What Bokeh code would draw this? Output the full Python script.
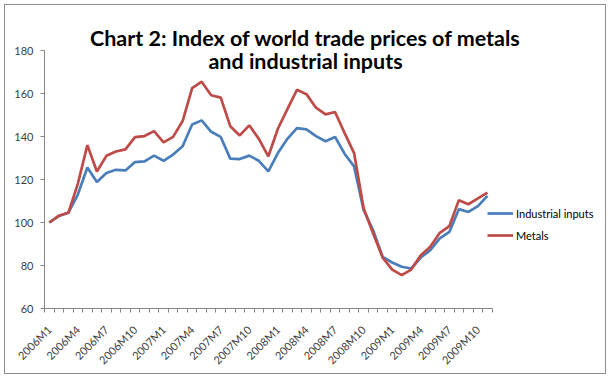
from math import pi
from bokeh.plotting import figure
from bokeh.models import FixedTicker, Label, Legend, LegendItem, Range1d, ColumnDataSource
from bokeh.embed import file_html
from bokeh.resources import INLINE

months = ["2006M1", "2006M2", "2006M3", "2006M4", "2006M5", "2006M6", "2006M7", "2006M8",
          "2006M9", "2006M10", "2006M11", "2006M12",
          "2007M1", "2007M2", "2007M3", "2007M4", "2007M5", "2007M6", "2007M7", "2007M8",
          "2007M9", "2007M10", "2007M11", "2007M12",
          "2008M1", "2008M2", "2008M3", "2008M4", "2008M5", "2008M6", "2008M7", "2008M8",
          "2008M9", "2008M10", "2008M11", "2008M12",
          "2009M1", "2009M2", "2009M3", "2009M4", "2009M5", "2009M6", "2009M7", "2009M8",
          "2009M9", "2009M10", "2009M11"]

industrial_inputs = [100, 103, 104.5, 113, 125.6, 118.8, 123, 124.5, 124.2, 128.1, 128.4, 131.1,
                     128.7, 131.6, 135.5, 145.6, 147.5, 142.2, 139.8, 129.7, 129.5, 131.1, 128.7, 123.8,
                     132.3, 138.9, 143.9, 143.3, 140.2, 137.8, 139.8, 132, 126.1, 105.8, 96.4, 84,
                     81.4, 79.4, 78.6, 83.7, 87.1, 92.6, 95.6, 106.2, 104.9, 107.6, 112.4]

metals = [100, 103.1, 104.5, 118, 136, 123.7, 131, 133, 134, 139.7, 140.2, 142.5,
          137.3, 139.8, 147.2, 162.5, 165.5, 159.2, 158.1, 144.8, 140.5, 145.2, 138.9, 130.8,
          143.6, 152.7, 161.7, 159.7, 153.4, 150.3, 151.4, 141.7, 132.3, 106.6, 94.9, 83.7,
          78.1, 75.5, 78.1, 84.8, 88.7, 95.2, 98.3, 110.4, 108.5, 111.2, 113.9]

y_ticks = [60, 80, 100, 120, 140, 160, 180]
label_step = 3

# layout (pixels)
FRAME_W, FRAME_H = 561, 303
CAT_PX = 447.7 / len(months)              # width of one month on the axis
Y_PX = 258 / (y_ticks[-1] - y_ticks[0])  # pixels per index point

idx = list(range(len(months)))
src = ColumnDataSource(dict(x=idx, ind=industrial_inputs, met=metals, m=months))

x_start = -0.5
x_end = x_start + FRAME_W / CAT_PX
y_end = y_ticks[0] + FRAME_H / Y_PX

p = figure(frame_width=FRAME_W, frame_height=FRAME_H, output_backend="svg", toolbar_location=None,
           x_range=Range1d(x_start, x_end), y_range=Range1d(y_ticks[0], y_end),
           min_border_left=39, min_border_right=0, min_border_top=0, min_border_bottom=65)
p.outline_line_color = None
p.xgrid.visible = False
p.ygrid.visible = False
p.background_fill_color = "white"
p.border_fill_color = "white"
p.styles = {"border": "1px solid #8c8c8c", "margin-left": "4px", "margin-top": "4px"}

blue = "#4A7EBB"
red = "#BE4B48"
r1 = p.line("x", "ind", source=src, line_color=blue, line_width=2.7)
r2 = p.line("x", "met", source=src, line_color=red, line_width=2.7)

tick_font = "Lato"
# x axis
xt = FixedTicker(ticks=idx[::label_step], minor_ticks=[i - 0.5 for i in idx] + [idx[-1] + 0.5])
p.xaxis.ticker = xt
p.xaxis.bounds = (-0.5, len(months) - 0.5)
p.xaxis.major_label_overrides = {i: months[i] for i in idx[::label_step]}
p.xaxis.major_label_orientation = pi / 4
p.xaxis.major_tick_out = 0
p.xaxis.major_tick_in = 0
p.xaxis.minor_tick_out = 4
p.xaxis.minor_tick_in = 0
p.xaxis.major_label_standoff = 15
# y axis
p.yaxis.ticker = FixedTicker(ticks=y_ticks, minor_ticks=[])
p.yaxis.bounds = (y_ticks[0], y_ticks[-1])
p.yaxis.major_tick_out = 4
p.yaxis.major_tick_in = 0
p.yaxis.minor_tick_out = 0
p.yaxis.minor_tick_in = 0
p.yaxis.major_label_standoff = 7
for ax in (p.xaxis, p.yaxis):
    ax.axis_line_color = "#868686"
    ax.major_tick_line_color = "#868686"
    ax.minor_tick_line_color = "#868686"
    ax.major_label_text_font = tick_font
    ax.major_label_text_font_size = "11px"
    ax.major_label_text_color = "#404040"

# title (overlaps top of plot area, as in the reference)
for txt, yy in (("Chart 2: Index of world trade prices of metals", 270.7),
                ("and industrial inputs", 248)):
    p.add_layout(Label(x=261, y=yy, x_units="screen", y_units="screen", text=txt,
                       text_font="Lato", text_font_style="bold", text_font_size="21.5px",
                       text_align="center", text_baseline="alphabetic", text_color="#000000"))

legend = Legend(items=[LegendItem(label="Industrial inputs", renderers=[r1]),
                       LegendItem(label="Metals", renderers=[r2])],
                location=(443, 66), orientation="vertical",
                padding=0, margin=0, spacing=8, glyph_width=26, glyph_height=14,
                label_height=14, label_standoff=3, border_line_color=None,
                background_fill_alpha=0, label_text_font=tick_font,
                label_text_font_size="11px", label_text_color="#000000")
p.add_layout(legend, "center")

open("out.html", "w").write(file_html(p, INLINE))
